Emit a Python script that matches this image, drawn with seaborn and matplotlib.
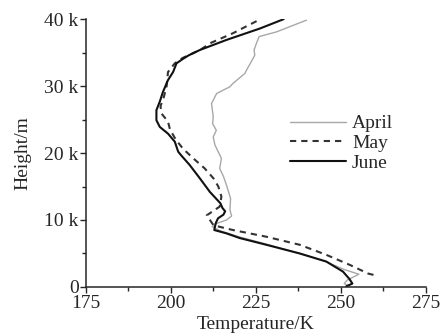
import numpy as np
import pandas as pd
import matplotlib
matplotlib.use("Agg")
import matplotlib.pyplot as plt
import seaborn as sns
from matplotlib.ticker import FuncFormatter, MultipleLocator

# temperature (K) and height (km) profiles, ground upward
april_t = [252.5, 251.0, 251.8, 255.3, 251.0, 246.0, 238.0, 228.0, 220.0, 214.5, 212.2, 213.0,
           216.4, 217.9, 217.4, 217.6, 216.4, 215.5, 214.4, 214.9, 213.0, 212.5, 213.4, 212.3,
           212.5, 212.0, 213.5, 217.4, 218.3, 221.8, 222.3, 224.7, 224.5, 225.2, 226.0, 231.1, 239.9]
april_h = [0.1, 0.5, 1.0, 1.9, 2.6, 3.7, 5.0, 6.4, 7.5, 8.4, 9.0, 9.4,
           10.0, 10.6, 11.5, 13.2, 15.2, 16.5, 17.7, 19.2, 21.2, 22.4, 23.4, 24.4,
           25.4, 27.4, 28.9, 29.9, 30.4, 31.9, 32.4, 34.6, 35.4, 36.4, 37.4, 38.1, 39.85]

may_t = [259.6, 258.0, 252.6, 245.7, 237.9, 228.1, 218.3, 212.6, 210.6, 214.4, 214.9, 214.0,
         212.6, 210.0, 207.1, 203.7, 201.5, 199.8, 199.2, 197.3, 197.0, 198.0, 198.8, 199.2,
         201.2, 203.5, 208.6, 212.0, 218.3, 222.5, 226.0]
may_h = [1.8, 2.0, 3.3, 4.8, 6.3, 7.5, 8.5, 9.2, 10.7, 12.0, 13.5, 15.0,
         16.2, 17.7, 19.0, 20.6, 22.0, 23.5, 24.7, 25.9, 27.0, 28.4, 30.0, 32.1,
         33.4, 34.2, 35.4, 36.5, 37.9, 39.0, 39.9]

june_t = [251.6, 253.4, 252.5, 250.6, 245.7, 237.9, 228.1, 220.3, 216.4, 212.8, 213.0, 213.3,
          213.9, 215.5, 216.0, 215.2, 214.6, 211.5, 208.6, 205.6, 203.0, 202.2, 201.2, 199.2,
          196.8, 195.8, 195.8, 196.8, 197.7, 199.2, 200.7, 201.7, 203.7, 205.3, 208.6, 216.4,
          226.2, 233.2]
june_h = [0.1, 0.5, 1.2, 2.3, 3.8, 5.0, 6.3, 7.3, 8.0, 8.5, 9.0, 9.6,
          10.25, 10.8, 11.3, 11.8, 12.5, 14.2, 16.2, 18.2, 19.7, 20.2, 21.7, 22.9,
          23.9, 24.9, 26.4, 27.7, 29.1, 30.9, 32.1, 33.4, 34.1, 34.6, 35.4, 36.9,
          38.6, 40.0]

months = ["April", "May", "June"]

df = pd.concat([
    pd.DataFrame({"T": april_t, "h": np.array(april_h) * 1000, "month": "April"}),
    pd.DataFrame({"T": may_t, "h": np.array(may_h) * 1000, "month": "May"}),
    pd.DataFrame({"T": june_t, "h": np.array(june_h) * 1000, "month": "June"}),
], ignore_index=True)

sns.set_style("ticks")
plt.rcParams["font.family"] = ["Liberation Serif", "DejaVu Serif"]
plt.rcParams["font.size"] = 14

fig, ax = plt.subplots(figsize=(4.46, 3.36), dpi=100)
fig.subplots_adjust(left=0.192, right=0.955, bottom=0.146, top=0.943)

sns.lineplot(data=df, x="T", y="h", hue="month", style="month", size="month",
             hue_order=months, style_order=months, size_order=months,
             palette={"April": "#a8a8a8", "May": "#333333", "June": "#111111"},
             dashes={"April": "", "May": (3, 2.4), "June": ""},
             sizes={"April": 1.0, "May": 1.5, "June": 1.5},
             sort=False, estimator=None, ax=ax)

ax.set_xlim(175, 275)
ax.set_ylim(0, 40000)
ax.xaxis.set_major_locator(MultipleLocator(25))
ax.xaxis.set_minor_locator(MultipleLocator(12.5))
ax.yaxis.set_major_locator(MultipleLocator(10000))
ax.yaxis.set_minor_locator(MultipleLocator(5000))
ax.yaxis.set_major_formatter(FuncFormatter(lambda v, p: "0" if v == 0 else f"{int(v / 1000)} k"))
ax.tick_params(which="major", direction="out", length=4, width=1, labelsize=14)
ax.tick_params(axis="x", which="major", pad=2)
ax.tick_params(axis="y", which="major", pad=1)
ax.tick_params(which="minor", direction="out", length=3, width=1)
for s in ["left", "bottom"]:
    ax.spines[s].set_linewidth(1.1)
sns.despine(ax=ax)

ax.set_xlabel("Temperature/K", fontsize=14, labelpad=3)
ax.set_ylabel("Height/m", fontsize=14, labelpad=9)

handles, labels = ax.get_legend_handles_labels()
ax.legend(handles=handles, labels=labels, loc="center left", bbox_to_anchor=(0.6, 0.537),
          frameon=False, fontsize=14, handlelength=2.9, handletextpad=0.3,
          labelspacing=0.1, borderpad=0, borderaxespad=0)

fig.savefig("out.png", dpi=100)
